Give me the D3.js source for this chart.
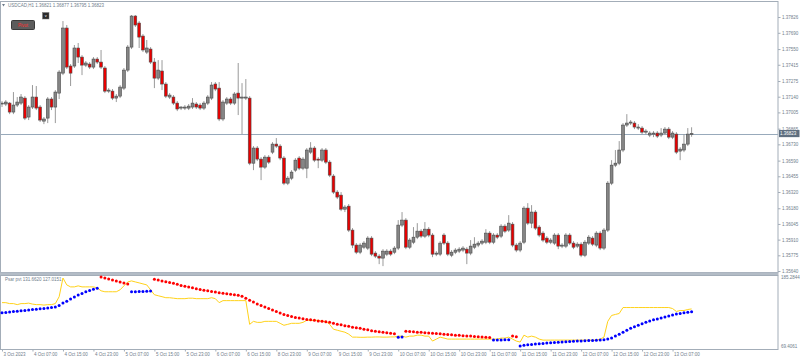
<!DOCTYPE html>
<html><head><meta charset="utf-8">
<script src="https://cdn.jsdelivr.net/npm/d3@7"></script>
<style>
body{margin:0;background:#fff}
svg{display:block}
text{font-family:"Liberation Sans",Arial,sans-serif}
</style></head>
<body><svg id="c" width="800" height="359"></svg>
<script>
// ---------- DATA ----------
const symbolTitle = "USDCAD,H1  1.36821 1.36877 1.36795 1.36823";
const indicatorTitle = "Psar pvt 131.6620 127.0151";
const lastPrice = 1.36823;

const open = [1.37077,1.37077,1.37085,1.37008,1.37068,1.37085,1.37128,1.36965,1.37051,1.37137,
1.37051,1.36930,1.36956,1.37120,1.37051,1.37171,1.37343,1.37731,1.37404,1.37404,
1.37559,1.37481,1.37412,1.37421,1.37395,1.37464,1.37438,1.37387,1.37188,1.37188,
1.37128,1.37145,1.37214,1.37369,1.37567,1.37834,1.37774,1.37662,1.37524,1.37550,
1.37438,1.37300,1.37361,1.37249,1.37137,1.37137,1.37085,1.37042,1.37042,1.37042,
1.37051,1.37077,1.37068,1.37042,1.37085,1.37128,1.37249,1.37214,1.36948,1.37085,
1.37120,1.37085,1.37171,1.37128,1.37128,1.37128,1.36568,1.36698,1.36603,1.36534,
1.36620,1.36663,1.36732,1.36715,1.36612,1.36396,1.36439,1.36508,1.36612,1.36525,
1.36525,1.36663,1.36698,1.36603,1.36594,1.36681,1.36577,1.36457,1.36319,1.36293,
1.36172,1.36198,1.35992,1.35863,1.35802,1.35845,1.35837,1.35923,1.35794,1.35768,
1.35751,1.35785,1.35811,1.35802,1.35837,1.36035,1.36078,1.35845,1.35888,1.35931,
1.35983,1.35940,1.36000,1.35949,1.35785,1.35785,1.35949,1.35880,1.35776,1.35802,
1.35811,1.35820,1.35828,1.35794,1.35845,1.35863,1.35880,1.35888,1.35966,1.35888,
1.35949,1.35940,1.36026,1.35992,1.36043,1.35863,1.35820,1.35888,1.36181,1.36052,
1.36147,1.36018,1.35966,1.35923,1.35888,1.35880,1.35949,1.35854,1.35854,1.35949,
1.35880,1.35854,1.35871,1.35776,1.35880,1.35923,1.35863,1.35966,1.35837,1.35992,
1.36396,1.36551,1.36568,1.36681,1.36896,1.36913,1.36913,1.36870,1.36870,1.36835,
1.36810,1.36818,1.36827,1.36810,1.36827,1.36861,1.36792,1.36818,1.36672,1.36681,
1.36732,1.36821];

const high = [1.37102,1.37111,1.37094,1.37180,1.37137,1.37163,1.37145,1.37068,1.37240,1.37232,
1.37068,1.36965,1.37137,1.37137,1.37197,1.37369,1.37791,1.37757,1.37421,1.37585,
1.37602,1.37498,1.37447,1.37438,1.37481,1.37481,1.37542,1.37404,1.37214,1.37206,
1.37163,1.37240,1.37387,1.37585,1.37843,1.37843,1.37791,1.37679,1.37628,1.37567,
1.37473,1.37455,1.37455,1.37266,1.37171,1.37154,1.37102,1.37059,1.37068,1.37077,
1.37128,1.37094,1.37085,1.37102,1.37154,1.37266,1.37266,1.37266,1.37111,1.37137,
1.37137,1.37180,1.37430,1.37257,1.37292,1.37145,1.36715,1.36715,1.36620,1.36637,
1.36637,1.36749,1.36784,1.36732,1.36629,1.36457,1.36508,1.36612,1.36629,1.36620,
1.36698,1.36749,1.36715,1.36620,1.36698,1.36698,1.36594,1.36474,1.36336,1.36319,
1.36207,1.36216,1.36009,1.35880,1.35880,1.35897,1.35940,1.35940,1.35811,1.35785,
1.35828,1.35828,1.35828,1.35854,1.36078,1.36147,1.36095,1.35923,1.36018,1.36052,
1.36000,1.36061,1.36018,1.35966,1.35811,1.35897,1.35966,1.35897,1.35820,1.35837,
1.35845,1.35854,1.35845,1.35906,1.35931,1.35897,1.35914,1.36000,1.35983,1.35966,
1.35966,1.36043,1.36043,1.36121,1.36061,1.35880,1.35897,1.36198,1.36224,1.36207,
1.36164,1.36035,1.35983,1.35940,1.35923,1.35966,1.35966,1.35880,1.35966,1.35966,
1.35897,1.35888,1.35888,1.35906,1.35949,1.35940,1.35983,1.35983,1.36009,1.36414,
1.36594,1.36681,1.36758,1.36913,1.36990,1.36939,1.36930,1.36904,1.36887,1.36861,
1.36844,1.36844,1.36844,1.36870,1.36879,1.36879,1.36844,1.36835,1.36706,1.36818,
1.36870,1.36877];

const low = [1.37051,1.37059,1.36990,1.36990,1.37051,1.37068,1.36939,1.36939,1.37034,1.37025,
1.36922,1.36904,1.36913,1.37025,1.36913,1.37120,1.37326,1.37378,1.37232,1.37387,
1.37430,1.37326,1.37395,1.37378,1.37378,1.37421,1.37378,1.37171,1.37171,1.37111,
1.37094,1.37128,1.37197,1.37352,1.37550,1.37740,1.37559,1.37524,1.37507,1.37421,
1.37214,1.37283,1.37197,1.37128,1.37120,1.37068,1.37016,1.37025,1.37025,1.37025,
1.37034,1.37034,1.37025,1.37025,1.37068,1.37111,1.37188,1.36930,1.36930,1.37068,
1.37068,1.37068,1.36982,1.36818,1.37111,1.36551,1.36508,1.36586,1.36422,1.36517,
1.36560,1.36646,1.36698,1.36594,1.36379,1.36379,1.36422,1.36491,1.36508,1.36508,
1.36439,1.36646,1.36577,1.36525,1.36577,1.36560,1.36448,1.36302,1.36259,1.36155,
1.36147,1.35975,1.35837,1.35785,1.35785,1.35828,1.35820,1.35768,1.35751,1.35699,
1.35682,1.35768,1.35768,1.35785,1.35820,1.36018,1.35828,1.35828,1.35871,1.35914,
1.35923,1.35923,1.35931,1.35759,1.35768,1.35768,1.35863,1.35768,1.35759,1.35785,
1.35794,1.35802,1.35699,1.35776,1.35828,1.35845,1.35863,1.35871,1.35871,1.35871,
1.35914,1.35923,1.35966,1.35975,1.35845,1.35802,1.35802,1.35871,1.36035,1.36009,
1.35992,1.35931,1.35888,1.35871,1.35871,1.35863,1.35828,1.35837,1.35837,1.35863,
1.35828,1.35837,1.35759,1.35759,1.35863,1.35854,1.35845,1.35820,1.35820,1.35975,
1.36379,1.36534,1.36551,1.36663,1.36879,1.36896,1.36861,1.36853,1.36818,1.36818,
1.36792,1.36792,1.36784,1.36792,1.36810,1.36775,1.36775,1.36646,1.36594,1.36663,
1.36715,1.36795];

const close = [1.37085,1.37094,1.37008,1.37068,1.37094,1.37137,1.36956,1.37051,1.37137,1.37042,
1.36939,1.36948,1.37120,1.37051,1.37180,1.37352,1.37731,1.37395,1.37343,1.37559,
1.37481,1.37412,1.37430,1.37395,1.37464,1.37438,1.37395,1.37188,1.37197,1.37128,
1.37145,1.37223,1.37369,1.37567,1.37834,1.37757,1.37653,1.37542,1.37559,1.37438,
1.37300,1.37369,1.37249,1.37145,1.37154,1.37085,1.37034,1.37051,1.37051,1.37059,
1.37085,1.37051,1.37042,1.37085,1.37137,1.37240,1.37206,1.36948,1.37094,1.37120,
1.37085,1.37163,1.37128,1.37137,1.37137,1.36568,1.36698,1.36603,1.36534,1.36620,
1.36577,1.36732,1.36715,1.36612,1.36396,1.36439,1.36491,1.36594,1.36525,1.36603,
1.36681,1.36698,1.36594,1.36594,1.36681,1.36577,1.36465,1.36319,1.36276,1.36172,
1.36190,1.35992,1.35863,1.35802,1.35863,1.35880,1.35923,1.35785,1.35768,1.35751,
1.35811,1.35811,1.35785,1.35837,1.36035,1.36078,1.35845,1.35906,1.35931,1.35983,
1.35940,1.36000,1.35949,1.35785,1.35794,1.35880,1.35880,1.35785,1.35802,1.35820,
1.35828,1.35837,1.35794,1.35854,1.35871,1.35880,1.35897,1.35966,1.35888,1.35949,
1.35931,1.36026,1.35983,1.36052,1.35863,1.35820,1.35880,1.36181,1.36052,1.36147,
1.36009,1.35949,1.35906,1.35888,1.35906,1.35949,1.35854,1.35863,1.35949,1.35880,
1.35845,1.35871,1.35776,1.35888,1.35931,1.35871,1.35966,1.35837,1.35992,1.36396,
1.36551,1.36568,1.36681,1.36896,1.36913,1.36922,1.36879,1.36879,1.36835,1.36844,
1.36827,1.36827,1.36801,1.36827,1.36861,1.36792,1.36827,1.36663,1.36689,1.36732,
1.36818,1.36823];

// indicator: yellow line ("pvt") and parabolic SAR dots
const pvtLine = [142.2,142.2,140.6,140.6,138.9,140.6,140.6,141.4,139.8,138.9,
138.9,138.1,138.9,138.9,140.6,152.2,183.6,172.0,168.7,168.7,
170.4,168.7,168.7,168.7,168.7,167.1,162.1,160.5,160.5,160.5,
160.5,163.8,170.4,177.0,178.7,177.0,175.4,173.7,172.0,163.8,
155.5,153.8,152.2,150.5,150.5,149.7,148.9,148.9,148.9,149.7,
149.7,148.9,148.9,148.9,148.9,150.5,148.9,142.2,145.6,145.6,
145.6,145.6,145.6,145.6,145.6,105.8,110.8,109.1,109.1,110.8,
110.8,110.8,110.8,107.5,104.2,105.8,107.5,107.5,107.5,109.1,
112.5,112.5,112.5,112.5,110.8,110.8,105.8,97.6,95.9,94.2,
92.6,89.3,84.3,84.3,84.0,84.0,84.3,84.3,84.6,84.6,
84.3,84.3,84.6,84.6,86.0,86.0,84.3,86.0,86.0,87.6,
87.6,86.0,86.0,77.7,81.0,84.3,82.7,81.0,81.0,81.0,
81.0,81.0,81.0,81.0,81.0,81.0,81.0,81.0,81.0,81.0,
81.0,82.7,82.7,84.3,81.0,77.7,76.0,87.6,84.3,86.0,
84.3,81.0,79.3,79.3,79.3,79.3,79.3,79.3,79.3,79.3,
79.3,79.3,79.3,79.3,79.3,79.3,79.3,81.0,84.3,110.8,
120.7,122.4,124.0,134.0,134.0,134.0,134.0,134.0,134.0,134.0,
134.0,134.0,134.0,134.0,134.0,134.0,132.3,127.4,129.0,129.0,
130.7,131.662];

const psar = [125.2,125.7,126.5,127.4,127.8,128.5,129.0,129.8,130.7,131.2,
131.8,132.3,133.1,134.0,134.8,137.3,141.7,144.4,148.4,151.7,
155.0,157.6,160.5,162.6,164.9,166.6,185.2844,183.6,182.0,180.3,
178.7,177.0,175.4,173.7,160.5,160.6,160.8,161.0,161.3,161.6,
181.5,180.3,178.7,177.5,176.2,174.9,172.9,171.2,169.9,168.7,
167.1,165.4,164.1,162.9,162.1,160.9,159.9,158.8,158.0,157.1,
156.3,155.5,154.7,153.0,149.7,146.4,143.1,139.8,137.3,134.8,
132.3,129.8,127.4,124.9,122.4,120.7,119.1,117.4,116.3,115.3,
114.1,113.3,112.5,111.6,110.8,110.0,109.1,107.5,105.8,105.0,
103.3,102.5,100.9,100.0,99.2,97.6,96.7,95.1,94.2,93.4,
92.6,91.8,90.9,90.1,84.3,84.6,94.2,93.7,93.2,92.6,
92.3,91.8,91.3,90.9,90.4,89.9,89.3,88.8,88.3,87.6,
87.3,86.8,86.3,86.0,85.5,85.1,84.6,84.3,83.8,79.3,
79.4,79.6,79.8,80.0,86.0,85.1,69.4061,70.5,71.3,72.0,
72.6,73.2,73.8,74.3,74.8,75.3,75.7,76.1,76.5,76.9,
77.3,77.6,77.9,78.2,78.5,78.8,79.1,79.4,79.8,81.0,
82.7,86.0,89.3,92.6,95.9,99.2,101.7,104.2,106.7,109.1,
111.6,113.3,114.9,116.6,118.2,119.9,121.6,123.2,124.0,125.2,
126.2,127.0151];

// SAR trend runs: [number of bars, direction]
const psarRuns = [[26,"up"],[8,"down"],[6,"up"],[64,"down"],[2,"up"],[23,"down"],[5,"up"],[2,"down"],[46,"up"]];

const priceTicks = [1.37826,1.37690,1.37550,1.37415,1.37275,1.37140,1.37005,1.36865,1.36730,
  1.36590,1.36455,1.36320,1.36180,1.36045,1.35910,1.35775,1.35640];
const indTicks = [185.2844, 69.4061];
const timeTickLabels = ["3 Oct 2023","4 Oct 07:00","4 Oct 15:00","4 Oct 23:00","5 Oct 07:00","5 Oct 15:00",
  "5 Oct 23:00","6 Oct 07:00","6 Oct 15:00","8 Oct 23:00","9 Oct 07:00","9 Oct 15:00","9 Oct 23:00",
  "10 Oct 07:00","10 Oct 15:00","10 Oct 23:00","11 Oct 07:00","11 Oct 15:00","11 Oct 23:00",
  "12 Oct 07:00","12 Oct 15:00","12 Oct 23:00","13 Oct 07:00"];

// ---------- CATEGORIES (hourly bar times, weekend skipped) ----------
const N = open.length;
const barTimes = [];
{ let t = Date.UTC(2023,9,3,23);
  for (let i=0;i<N;i++){
    barTimes.push(new Date(t));
    t += 3600e3;
    const d = new Date(t);
    if (d.getUTCDay()===5 && d.getUTCHours()===23) t += 48*3600e3;
  } }
const fmt = d3.utcFormat("%-d %b %H:%M");
const barLabels = barTimes.map(fmt);
const tickIdx = timeTickLabels.map((s,k)=> k===0 ? 0 : barLabels.indexOf(s));

const dir = [];
psarRuns.forEach(([n,dd])=>{ for(let k=0;k<n;k++) dir.push(dd); });

// ---------- LAYOUT ----------
const svg = d3.select("#c");
const axisX = 778;
const mainTop = 1.5, mainBot = 272.5;
const indTop = 275.5, indBot = 349.5;
const frameCol = "#a3adb8", labelCol = "#707d8b";
const fs = 4.5;

const x = d3.scaleLinear().domain([0, N-1]).range([2, 691.6]);
const y = d3.scaleLinear().domain([1.35640, 1.37826]).range([271, 17]);
const yi = d3.scaleLinear().domain([69.4061, 185.2844]).range([346, 277]);

svg.append("rect").attr("width",800).attr("height",359).attr("fill","#fff");

// current price line (behind bars)
svg.append("line").attr("x1",0).attr("x2",axisX).attr("y1",Math.round(y(lastPrice))+0.5).attr("y2",Math.round(y(lastPrice))+0.5)
  .attr("stroke","#98aabb").attr("stroke-width",1);

// candles
const idx = d3.range(N);
const cg = svg.append("g");
cg.selectAll("line").data(idx).join("line")
  .attr("x1",i=>x(i)).attr("x2",i=>x(i))
  .attr("y1",i=>y(high[i])).attr("y2",i=>y(low[i]))
  .attr("stroke","#9a9a9a").attr("stroke-width",1);
cg.selectAll("rect").data(idx).join("rect")
  .attr("x",i=>x(i)-1.4).attr("width",2.8)
  .attr("y",i=>y(Math.max(open[i],close[i])))
  .attr("height",i=>Math.max(0.9,Math.abs(y(open[i])-y(close[i]))))
  .attr("fill",i=>close[i]>=open[i]?"#858585":"#e80000")
  .attr("stroke","#4a4a4a").attr("stroke-width",0.6);

// frames
svg.append("rect").attr("x",0.5).attr("y",mainTop).attr("width",axisX-0.5).attr("height",mainBot-mainTop)
  .attr("fill","none").attr("stroke",frameCol);
svg.append("rect").attr("x",0).attr("y",272.5).attr("width",axisX+0.5).attr("height",3).attr("fill","#b3bcc6");
svg.append("rect").attr("x",0.5).attr("y",indTop).attr("width",axisX-0.5).attr("height",indBot-indTop)
  .attr("fill","none").attr("stroke",frameCol);

// price axis
const ya = svg.append("g").attr("transform",`translate(${axisX},0)`)
  .call(d3.axisRight(y).tickValues(priceTicks).tickSize(2.5).tickPadding(1.5).tickFormat(d3.format(".5f")));
ya.select(".domain").remove();
ya.selectAll("line").attr("stroke",frameCol);
ya.selectAll("text").attr("fill",labelCol).style("font-size",fs+"px").style("font-family","Liberation Sans, Arial, sans-serif");

// current price tag
const yp = y(lastPrice);
svg.append("rect").attr("x",axisX+1).attr("y",yp-3.6).attr("width",20.5).attr("height",7.2).attr("fill","#5f6f80");
svg.append("text").attr("x",axisX+2).attr("y",yp).attr("dy","0.35em").attr("fill","#fff")
  .style("font-size",fs+"px").text(d3.format(".5f")(lastPrice));

// indicator axis
const yia = svg.append("g").attr("transform",`translate(${axisX},0)`)
  .call(d3.axisRight(yi).tickValues(indTicks).tickSize(0).tickPadding(3).tickFormat(d3.format(".4f")));
yia.select(".domain").remove();
yia.selectAll("text").attr("fill",labelCol).style("font-size",fs+"px").style("font-family","Liberation Sans, Arial, sans-serif");

// indicator: yellow line
svg.append("path").datum(idx)
  .attr("d", d3.line().x(i=>x(i)).y(i=>yi(pvtLine[i])))
  .attr("fill","none").attr("stroke","#ffd21a").attr("stroke-width",1);
// SAR dots
svg.append("g").selectAll("circle").data(idx).join("circle")
  .attr("cx",i=>x(i)).attr("cy",i=>yi(psar[i])).attr("r",1.5)
  .attr("fill",i=>dir[i]==="up"?"#0000ff":"#ff0000");

// time axis
const xa = svg.append("g").attr("transform",`translate(0,${indBot})`)
  .call(d3.axisBottom(x).tickValues(tickIdx).tickSize(2).tickPadding(1.5).tickFormat((d,k)=>timeTickLabels[k]));
xa.select(".domain").remove();
xa.selectAll("line").attr("stroke",frameCol);
xa.selectAll("text").attr("fill",labelCol).attr("text-anchor","start").attr("dx",1)
  .style("font-size",fs+"px").style("font-family","Liberation Sans, Arial, sans-serif");

// titles
svg.append("path").attr("d","M2,4 L5,4 L3.5,6.5 Z").attr("fill",labelCol);
svg.append("text").attr("x",8).attr("y",5.5).attr("dy","0.35em").attr("fill",labelCol)
  .style("font-size",fs+"px").text(symbolTitle);
svg.append("text").attr("x",5).attr("y",279.5).attr("dy","0.35em").attr("fill",labelCol)
  .style("font-size",fs+"px").text(indicatorTitle);

// buttons
svg.append("rect").attr("x",11.5).attr("y",20.5).attr("width",23).attr("height",9).attr("rx",1)
  .attr("fill","#5c5c5c").attr("stroke","#3a3a3a");
svg.append("text").attr("x",23).attr("y",25).attr("dy","0.35em").attr("text-anchor","middle")
  .attr("fill","#ff3030").style("font-size",fs+"px").text("Pivot");
svg.append("rect").attr("x",42.5).attr("y",12.5).attr("width",6.5).attr("height",6.5)
  .attr("fill","#2b2b2b").attr("stroke","#777").attr("stroke-width",0.5);
svg.append("text").attr("x",45.75).attr("y",15.8).attr("dy","0.35em").attr("text-anchor","middle")
  .attr("fill","#fff").style("font-size","4px").text("v");
</script>
</body></html>
